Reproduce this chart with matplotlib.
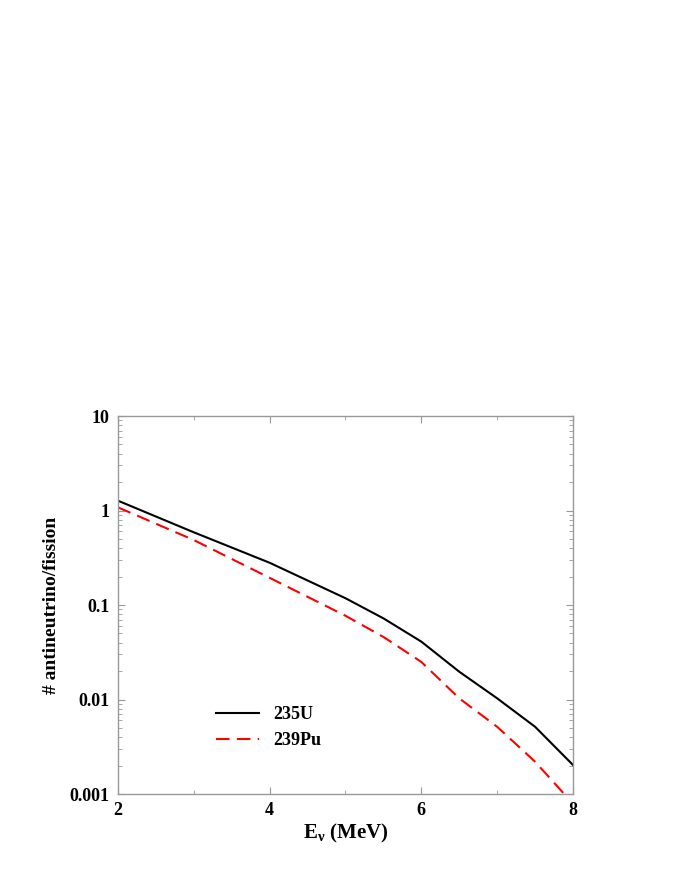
import matplotlib

matplotlib.use("Agg")
import matplotlib.pyplot as plt
from matplotlib.ticker import FixedLocator, LogLocator, NullFormatter

# spectra (MeV, antineutrinos per fission per MeV)
energy_u = [2.0, 3.0, 4.0, 5.0, 5.5, 6.0, 6.5, 7.0, 7.5, 8.0]
flux_u235 = [1.27, 0.588, 0.28, 0.118, 0.0723, 0.041, 0.0197, 0.0103, 0.00515, 0.00203]
energy_pu = [2.0, 3.0, 4.0, 5.0, 5.5, 6.0, 6.5, 7.0, 7.5, 8.0]
flux_pu239 = [1.08, 0.487, 0.194, 0.077, 0.046, 0.025, 0.0103, 0.00515, 0.0022, 0.00079]

x_major = [2, 4, 6, 8]
x_minor = [3, 5, 7]
y_major = [0.001, 0.01, 0.1, 1, 10]
y_labels = ["0.001", "0.01", "0.1", "1", "10"]

plt.rcParams["font.family"] = ["Liberation Serif", "DejaVu Serif"]
plt.rcParams["font.weight"] = "bold"
plt.rcParams["mathtext.fontset"] = "custom"
plt.rcParams["mathtext.rm"] = "Liberation Serif:bold"
plt.rcParams["mathtext.it"] = "Liberation Serif:bold"

fig = plt.figure(figsize=(6.92, 8.96), dpi=100)
ax = fig.add_axes([0.1705, 0.1138, 0.6575, 0.4219])

ax.plot(energy_u, flux_u235, color="black", linewidth=1.5, label="235U")
ax.plot(energy_pu, flux_pu239, color="red", linewidth=1.5, dashes=(6.5, 3.5), label="239Pu")

ax.set_yscale("log")
ax.set_xlim(2, 8)
ax.set_ylim(0.001, 10)
ax.xaxis.set_major_locator(FixedLocator(x_major))
ax.xaxis.set_minor_locator(FixedLocator(x_minor))
ax.set_yticks(y_major)
ax.set_yticklabels(y_labels)
ax.yaxis.set_minor_locator(LogLocator(base=10, subs=range(2, 10)))
ax.yaxis.set_minor_formatter(NullFormatter())

for spine in ax.spines.values():
    spine.set_color("#999999")
    spine.set_linewidth(1.0)
ax.tick_params(which="both", direction="in", top=True, right=True, color="#999999")
ax.tick_params(which="major", length=5, labelsize=13, pad=6)
ax.tick_params(which="minor", length=3)

ax.set_xlabel(r"E$_{\nu}$ (MeV)", fontsize=15, fontweight="bold", labelpad=2)
ax.set_ylabel("# antineutrino/fission", fontsize=14, fontweight="bold", labelpad=7)

leg = ax.legend(loc="lower left", bbox_to_anchor=(0.18, 0.076), frameon=False,
                fontsize=13, handlelength=2.35, handletextpad=0.8, labelspacing=0.5)

fig.savefig("out.png", dpi=100)
